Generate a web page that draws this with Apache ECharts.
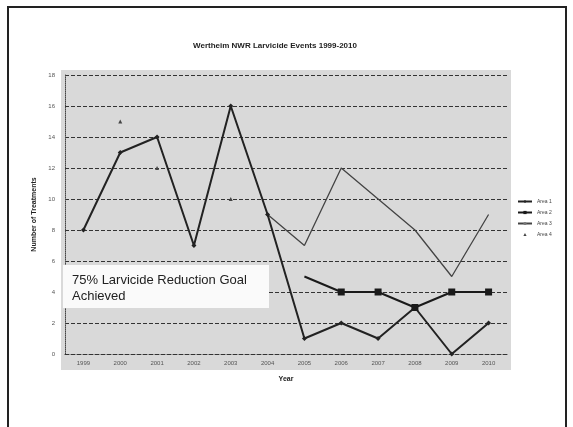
<!DOCTYPE html>
<html>
<head>
<meta charset="utf-8">
<script src="https://cdn.jsdelivr.net/npm/echarts@6/dist/echarts.min.js"></script>
<style>
  html, body { margin: 0; padding: 0; background: #fff; }
  #chart { width: 573px; height: 427px; }
</style>
</head>
<body>
<div id="chart"></div>
<script>
const years = ['1999', '2000', '2001', '2002', '2003', '2004', '2005', '2006', '2007', '2008', '2009', '2010']
const area1 = [8, 13, 14, 7, 16, 9, 1, 2, 1, 3, 0, 2]
const area2 = [null, null, null, null, null, null, 5, 4, 4, 3, 4, 4]
const area3 = [null, null, null, null, null, 9, 7, 12, 10, 8, 5, 9]
const area4 = [null, 15, 12, null, 10, null, null, null, null, null, null, null]

const chart = echarts.init(document.getElementById('chart'))

const option = {
  backgroundColor: '#fff',
  animation: false,
  title: {
    text: 'Wertheim NWR Larvicide Events 1999-2010',
    left: 270,
    textAlign: 'center',
    top: 37,
    textStyle: { fontSize: 8, fontWeight: 'bold', color: '#222', fontFamily: 'Liberation Sans' }
  },
  graphic: [
    {
      type: 'rect', z: -10,
      shape: { x: 8, y: 7, width: 558, height: 440 },
      style: { fill: 'none', stroke: '#222', lineWidth: 2 }
    },
    {
      type: 'rect', z: -5,
      shape: { x: 61, y: 70, width: 450, height: 300 },
      style: { fill: '#d9d9d9' }
    },
    {
      type: 'rect', z: 10,
      shape: { x: 63, y: 265, width: 206, height: 43 },
      style: { fill: '#fafafa' }
    },
    {
      type: 'text', z: 11,
      left: 72, top: 272,
      style: {
        text: '75% Larvicide Reduction Goal\nAchieved',
        font: '13px "Liberation Sans"',
        fill: '#222',
        lineHeight: 16
      }
    }
  ],
  legend: {
    orient: 'vertical',
    left: 512,
    top: 194,
    itemWidth: 14,
    itemHeight: 4,
    itemGap: 6,
    textStyle: { fontSize: 5, color: '#444' },
    data: ['Area 1', 'Area 2', 'Area 3', 'Area 4']
  },
  grid: { left: 65, right: 66, top: 75, bottom: 73 },
  xAxis: {
    type: 'category',
    data: years,
    boundaryGap: true,
    name: 'Year',
    nameLocation: 'middle',
    nameGap: 22,
    nameTextStyle: { fontSize: 7, fontWeight: 'bold', color: '#222' },
    axisLine: { lineStyle: { color: '#333', type: 'dashed', width: 1 } },
    axisTick: { show: false },
    axisLabel: { fontSize: 6, color: '#555', margin: 6 }
  },
  yAxis: {
    type: 'value',
    min: 0,
    max: 18,
    interval: 2,
    name: 'Number of Treatments',
    nameLocation: 'middle',
    nameGap: 25,
    nameTextStyle: { fontSize: 7, fontWeight: 'bold', color: '#222' },
    axisLine: { show: true, lineStyle: { color: '#444', type: 'dotted' } },
    axisTick: { show: false },
    axisLabel: { fontSize: 6, color: '#555', margin: 10 },
    splitLine: { lineStyle: { color: '#333', type: 'dashed', width: 1 } }
  },
  series: [
    {
      name: 'Area 1',
      type: 'line',
      data: area1,
      color: '#222',
      lineStyle: { width: 2, color: '#222' },
      symbol: 'diamond',
      symbolSize: 5,
      itemStyle: { color: '#222' },
      z: 5
    },
    {
      name: 'Area 2',
      type: 'line',
      data: area2,
      color: '#1a1a1a',
      lineStyle: { width: 2, color: '#1a1a1a' },
      symbol: 'rect',
      // first point of this series has no marker in the original
      symbolSize: (v, p) => (p.dataIndex === 6 ? 0 : 7),
      itemStyle: { color: '#1a1a1a' },
      z: 6
    },
    {
      name: 'Area 3',
      type: 'line',
      data: area3,
      color: '#777',
      lineStyle: { width: 1.3, color: '#444' },
      symbol: 'none',
      z: 4
    },
    {
      name: 'Area 4',
      type: 'line',
      data: area4,
      color: '#666',
      lineStyle: { width: 0, type: 'dashed' },
      symbol: 'triangle',
      symbolSize: 4,
      itemStyle: { color: '#444' },
      z: 4
    }
  ]
}

chart.setOption(option)
</script>
</body>
</html>
